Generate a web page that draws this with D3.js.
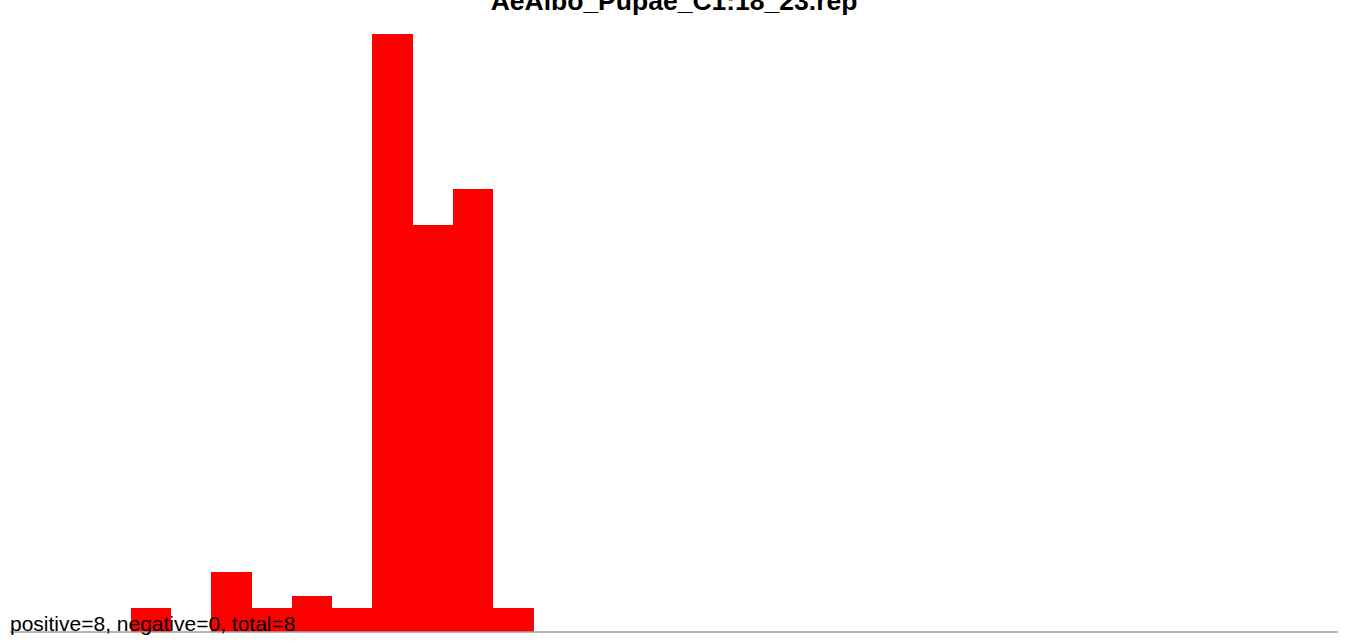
<!DOCTYPE html>
<html><head><meta charset="utf-8">
<script src="https://cdn.jsdelivr.net/npm/d3@7"></script>
<style>body{margin:0;background:#fff;}svg{display:block;}</style>
</head><body>
<svg id="chart" width="1350" height="643"></svg>
<script>
const title = "AeAlbo_Pupae_C1:18_23.rep";
const footer = "positive=8, negative=0, total=8";
const bins = d3.range(33);
const counts = [0,0,0,2,0,5,2,3,2,50,34,37,2,0,0,0,0,0,0,0,0,0,0,0,0,0,0,0,0,0,0,0,0];

const svg = d3.select("#chart");
const x = d3.scaleBand().domain(bins).range([10, 1338]).padding(0);
const y = d3.scaleLinear().domain([0, 50]).range([632, 34]);

svg.append("text").attr("x", 674).attr("y", 10).attr("text-anchor", "middle")
  .attr("font-family", "Liberation Sans, Arial, sans-serif").attr("font-weight", "bold")
  .attr("font-size", 26.5).attr("fill", "#000").text(title);

svg.append("g").attr("shape-rendering", "crispEdges").selectAll("rect")
  .data(bins.filter(i => counts[i] > 0)).join("rect")
  .attr("x", i => x(i)).attr("width", x.bandwidth() + 0.5)
  .attr("y", i => y(counts[i])).attr("height", i => y(0) - y(counts[i]))
  .attr("fill", "#ff0000");

svg.append("line").attr("x1", 10).attr("x2", 1338).attr("y1", 632).attr("y2", 632)
  .attr("stroke", "#a0a0a0").attr("stroke-width", 1.5);

svg.append("text").attr("x", 10).attr("y", 631)
  .attr("font-family", "Liberation Sans, Arial, sans-serif")
  .attr("font-size", 21).attr("fill", "#000").text(footer);
</script>
</body></html>
